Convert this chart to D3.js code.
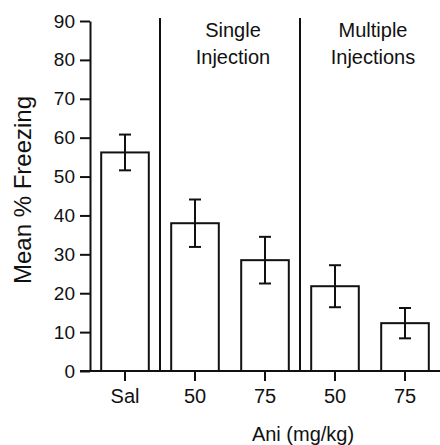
<!DOCTYPE html>
<html>
<head>
<meta charset="utf-8">
<script src="https://cdn.jsdelivr.net/npm/d3@7"></script>
<style>
  body { margin: 0; background: #fff; }
  svg text { font-family: "Liberation Sans", Arial, Helvetica, sans-serif; fill: #111; }
</style>
</head>
<body>
<svg id="chart" width="440" height="445"></svg>
<script>
// bar data
var groups = ['sal', 's50', 's75', 'm50', 'm75'];
var tickLabels = ['Sal', '50', '75', '50', '75'];
var means = [56.2, 38.0, 28.5, 21.8, 12.3];
var sems = [4.6, 6.1, 6.0, 5.4, 3.9];
var yTicks = [0, 10, 20, 30, 40, 50, 60, 70, 80, 90];
var sections = [
  { after: 's50', lines: ['Single', 'Injection'] },
  { after: 'm50', lines: ['Multiple', 'Injections'] }
];

var svg = d3.select('#chart');
var ink = '#111';

var x = d3.scaleBand()
  .domain(groups)
  .range([90, 440])
  .paddingInner(0.32)
  .paddingOuter(0.16);

var y = d3.scaleLinear()
  .domain([0, 90])
  .range([371, 21]);

// y axis
var yAxis = svg.append('g')
  .attr('transform', 'translate(90,0)')
  .call(d3.axisLeft(y).tickValues(yTicks).tickSize(10).tickSizeOuter(0).tickPadding(5));
yAxis.selectAll('path, line').attr('stroke', ink).attr('stroke-width', 2);
yAxis.selectAll('text').attr('font-size', 19).attr('fill', ink);
yAxis.attr('font-family', null);

// x axis (no domain line, baseline drawn separately so it runs past the y axis)
var xAxis = svg.append('g')
  .attr('transform', 'translate(0,' + y(0) + ')')
  .call(d3.axisBottom(x).tickSize(10).tickPadding(8).tickFormat(function(d, i) { return tickLabels[i]; }));
xAxis.select('.domain').remove();
xAxis.selectAll('line').attr('stroke', ink).attr('stroke-width', 2);
xAxis.selectAll('text').attr('font-size', 20).attr('fill', ink);
xAxis.attr('font-family', null);

svg.append('line')
  .attr('x1', 80).attr('x2', 440)
  .attr('y1', y(0)).attr('y2', y(0))
  .attr('stroke', ink).attr('stroke-width', 2);

// bars
svg.selectAll('rect.bar')
  .data(groups)
  .enter().append('rect')
  .attr('class', 'bar')
  .attr('x', function(d) { return x(d); })
  .attr('y', function(d, i) { return y(means[i]); })
  .attr('width', x.bandwidth())
  .attr('height', function(d, i) { return y(0) - y(means[i]); })
  .attr('fill', '#fff')
  .attr('stroke', ink)
  .attr('stroke-width', 2);

// error bars
var capHalf = 6;
var err = svg.selectAll('g.err')
  .data(groups)
  .enter().append('g')
  .attr('class', 'err')
  .attr('stroke', ink)
  .attr('stroke-width', 2);

err.append('line')
  .attr('x1', function(d) { return x(d) + x.bandwidth() / 2; })
  .attr('x2', function(d) { return x(d) + x.bandwidth() / 2; })
  .attr('y1', function(d, i) { return y(means[i] + sems[i]); })
  .attr('y2', function(d, i) { return y(means[i] - sems[i]); });

[1, -1].forEach(function(sign) {
  err.append('line')
    .attr('x1', function(d) { return x(d) + x.bandwidth() / 2 - capHalf; })
    .attr('x2', function(d) { return x(d) + x.bandwidth() / 2 + capHalf; })
    .attr('y1', function(d, i) { return y(means[i] + sign * sems[i]); })
    .attr('y2', function(d, i) { return y(means[i] + sign * sems[i]); });
});

// section dividers and headers
sections.forEach(function(s) {
  var dx = x(s.after) - (x.step() - x.bandwidth()) / 2;
  svg.append('line')
    .attr('x1', dx).attr('x2', dx)
    .attr('y1', 18).attr('y2', y(0))
    .attr('stroke', ink).attr('stroke-width', 2);

  var cx = dx + x.step() + 3;
  var t = svg.append('text')
    .attr('text-anchor', 'middle')
    .attr('font-size', 20);
  s.lines.forEach(function(line, i) {
    t.append('tspan')
      .attr('x', cx)
      .attr('y', 37 + i * 27)
      .text(line);
  });
});

// axis titles
svg.append('text')
  .attr('x', 303)
  .attr('y', 441)
  .attr('text-anchor', 'middle')
  .attr('font-size', 20)
  .text('Ani (mg/kg)');

svg.append('text')
  .attr('transform', 'translate(31,190) rotate(-90)')
  .attr('text-anchor', 'middle')
  .attr('font-size', 24)
  .text('Mean % Freezing');
</script>
</body>
</html>
